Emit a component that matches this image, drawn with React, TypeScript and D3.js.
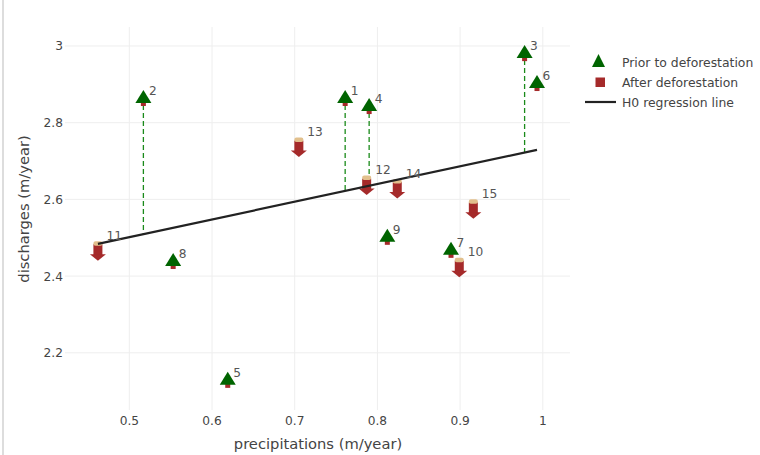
import React from "react";
import * as d3 from "d3";

// Prior to deforestation (trees)
const priorIds = [1, 2, 3, 4, 5, 6, 7, 8, 9];
const priorX = [0.761, 0.517, 0.978, 0.790, 0.619, 0.993, 0.889, 0.553, 0.812];
const priorY = [2.867, 2.867, 2.984, 2.846, 2.132, 2.906, 2.471, 2.442, 2.505];

// After deforestation (stumps)
const afterIds = [10, 11, 12, 13, 14, 15];
const afterX = [0.899, 0.462, 0.787, 0.705, 0.824, 0.916];
const afterY = [2.422, 2.465, 2.636, 2.735, 2.627, 2.574];

// H0 regression line endpoints
const lineX = [0.462, 0.993];
const lineY = [2.484, 2.729];

// Residual lines (which trees get a dashed line)
const residualIds = [1, 2, 3, 4];

const xTicks = [0.5, 0.6, 0.7, 0.8, 0.9, 1];
const yTicks = [2.2, 2.4, 2.6, 2.8, 3];

const legendLabels = ["Prior to deforestation", "After deforestation", "H0 regression line"];

const W = 760;
const H = 455;
const L = 65, R = 570, T = 27, B = 410;

const GREEN = "#006400";
const RED = "#a52a2a";
const TAN = "#e2c08d";
const TXT = "#444";
const FONT = "'DejaVu Sans', Verdana, sans-serif";
const FS = 12.2;

function Tree({ cx, cy }: { cx: number; cy: number }) {
  return (
    <g>
      <rect x={cx - 2.5} y={cy + 4} width={5} height={5} fill={RED} />
      <path d={`M${cx},${cy - 7} L${cx + 8},${cy + 6} L${cx - 8},${cy + 6} Z`} fill={GREEN} />
    </g>
  );
}

function Stump({ cx, cy }: { cx: number; cy: number }) {
  return (
    <g>
      <rect x={cx - 4.5} y={cy - 7} width={9} height={11} fill={RED} />
      <path d={`M${cx - 8},${cy + 3} L${cx + 8},${cy + 3} L${cx},${cy + 9.5} Z`} fill={RED} />
      <rect x={cx - 4.5} y={cy - 10} width={9} height={4.5} rx={2} fill={TAN} />
    </g>
  );
}

export default function App() {
  const x = d3.scaleLinear().domain([0.4222, 1.0329]).range([L, R]);
  const y = d3.scaleLinear().domain([2.0508, 3.0495]).range([B, T]);

  const slope = (lineY[1] - lineY[0]) / (lineX[1] - lineX[0]);
  const lineAt = (v: number) => lineY[0] + slope * (v - lineX[0]);

  const linePath = d3.line<number>()
    .x((_, i) => x(lineX[i]))
    .y((d) => y(d))(lineY) as string;

  return (
    <svg width={W} height={H} style={{ position: "absolute", left: 0, top: 0, fontFamily: FONT }}>
      <rect width={W} height={H} fill="#fff" />
      <line x1={3} x2={3} y1={0} y2={H} stroke="#bbb" strokeWidth={1} />
      {/* grid */}
      {xTicks.map((t) => (
        <line key={"gx" + t} x1={x(t)} x2={x(t)} y1={T} y2={B} stroke="#eee" strokeWidth={1} />
      ))}
      {yTicks.map((t) => (
        <line key={"gy" + t} x1={L} x2={R} y1={y(t)} y2={y(t)} stroke="#eee" strokeWidth={1} />
      ))}
      {/* tick labels */}
      {xTicks.map((t) => (
        <text key={"tx" + t} x={x(t)} y={425} textAnchor="middle" fontSize={FS} fill={TXT}>
          {d3.format("~g")(t)}
        </text>
      ))}
      {yTicks.map((t) => (
        <text key={"ty" + t} x={63} y={y(t) + 4.5} textAnchor="end" fontSize={FS} fill={TXT}>
          {d3.format("~g")(t)}
        </text>
      ))}
      {/* axis titles */}
      <text x={318} y={449} textAnchor="middle" fontSize={14.7} fill={TXT}>precipitations (m/year)</text>
      <text transform={`translate(29,209) rotate(-90)`} textAnchor="middle" fontSize={14.7} fill={TXT}>
        discharges (m/year)
      </text>

      {/* residual dashed lines */}
      {residualIds.map((id) => {
        const i = priorIds.indexOf(id);
        return (
          <line key={"r" + id} x1={x(priorX[i])} x2={x(priorX[i])} y1={y(priorY[i])} y2={y(lineAt(priorX[i]))}
            stroke="#1a8a1a" strokeWidth={1.3} strokeDasharray="5,3" />
        );
      })}

      {/* stumps */}
      {afterIds.map((id, i) => (
        <Stump key={"s" + id} cx={x(afterX[i])} cy={y(afterY[i])} />
      ))}

      {/* regression line */}
      <path d={linePath} fill="none" stroke="#222" strokeWidth={2.2} />

      {/* trees */}
      {priorIds.map((id, i) => (
        <Tree key={"t" + id} cx={x(priorX[i])} cy={y(priorY[i])} />
      ))}

      {/* labels */}
      {priorIds.map((id, i) => (
        <text key={"lt" + id} x={x(priorX[i]) + 5.5} y={y(priorY[i]) - 2} fontSize={FS} fill="#555">{id}</text>
      ))}
      {afterIds.map((id, i) => (
        <text key={"la" + id} x={x(afterX[i]) + 8.5} y={y(afterY[i]) - 11.5} fontSize={FS} fill="#555">{id}</text>
      ))}

      {/* legend */}
      <g>
        <path d={`M598.5,54 L605,67 L592,67 Z`} fill={GREEN} />
        <rect x={595.5} y={77.5} width={9.5} height={9.5} fill={RED} />
        <line x1={585} x2={616} y1={102} y2={102} stroke="#222" strokeWidth={2.2} />
        {legendLabels.map((s, i) => (
          <text key={s} x={622} y={66.5 + i * 20} fontSize={12.4} fill={TXT}>{s}</text>
        ))}
      </g>
    </svg>
  );
}
